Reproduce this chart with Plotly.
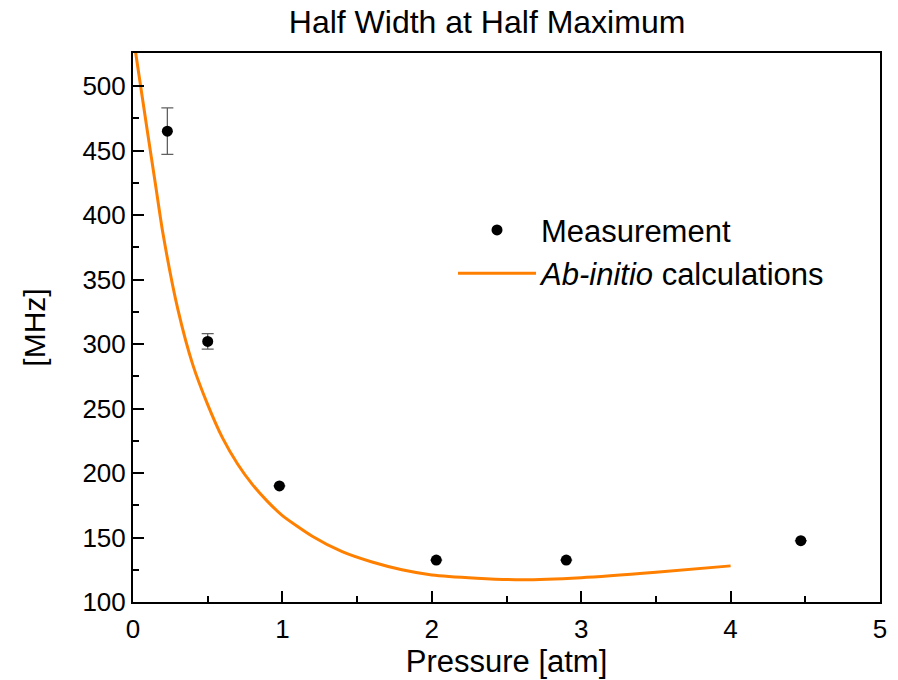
import plotly.graph_objects as go

# Measurement data
meas_x = [0.23, 0.50, 0.98, 2.03, 2.90, 4.47]
meas_y = [465, 302, 190, 132.5, 132.5, 147.5]
meas_err = [18, 6, None, None, None, None]

# Ab-initio calculation curve
calc_x = [0.0, 0.02, 0.1, 0.15, 0.2, 0.3, 0.4, 0.5, 0.6, 0.7, 0.8, 0.9, 1.0,
          1.2, 1.4, 1.6, 1.8, 2.0, 2.3, 2.6, 3.0, 3.5, 4.0]
calc_y = [540, 524, 462, 424, 386, 327, 284, 253, 227, 207, 191, 178, 167,
          151, 139, 131, 125, 121, 118.5, 117.2, 118.8, 123, 128]

FONT = "Liberation Sans, Arial, sans-serif"

fig = go.Figure()
fig.add_trace(go.Scatter(
    x=meas_x, y=meas_y, mode="markers", name="Measurement",
    marker=dict(color="black", size=11),
    error_y=dict(type="data", array=meas_err, color="#606060", thickness=1.3, width=6),
))
fig.add_trace(go.Scatter(
    x=calc_x, y=calc_y, mode="lines", name="<i>Ab-initio</i> calculations",
    line=dict(color="#ff8000", width=3, shape="spline", smoothing=0.6),
))

axis_common = dict(
    showgrid=False, zeroline=False, showline=True, linecolor="black", linewidth=2,
    mirror=True, ticks="inside", ticklen=11, tickwidth=2, tickcolor="black",
    tickfont=dict(family=FONT, size=26, color="black"), automargin=False,
)

fig.update_layout(
    width=898, height=680,
    margin=dict(l=133, r=18, t=53, b=78),
    paper_bgcolor="white", plot_bgcolor="white",
    font=dict(family=FONT, color="black"),
    title=dict(text="Half Width at Half Maximum", x=0.474, xref="paper",
               y=1 - 22 / 680, yref="container", xanchor="center", yanchor="middle",
               font=dict(family=FONT, size=32, color="black")),
    xaxis=dict(range=[0, 5], dtick=1, tick0=0, ticklabelstandoff=3,
               title=dict(text="Pressure [atm]", font=dict(family=FONT, size=31), standoff=6),
               minor=dict(ticks="inside", ticklen=6, tickwidth=1.5, tickcolor="black", dtick=0.5),
               **axis_common),
    yaxis=dict(range=[100, 525.6], dtick=50, tick0=100,
               title=dict(text="[MHz]", font=dict(family=FONT, size=30), standoff=28),
               minor=dict(ticks="inside", ticklen=6, tickwidth=1.5, tickcolor="black", dtick=25),
               **axis_common),
    legend=dict(x=0.4284, y=0.638, xanchor="left", yanchor="middle",
                bgcolor="rgba(0,0,0,0)", font=dict(family=FONT, size=31, color="black"),
                itemwidth=78),
    showlegend=True,
)

fig.write_html("out.html")
